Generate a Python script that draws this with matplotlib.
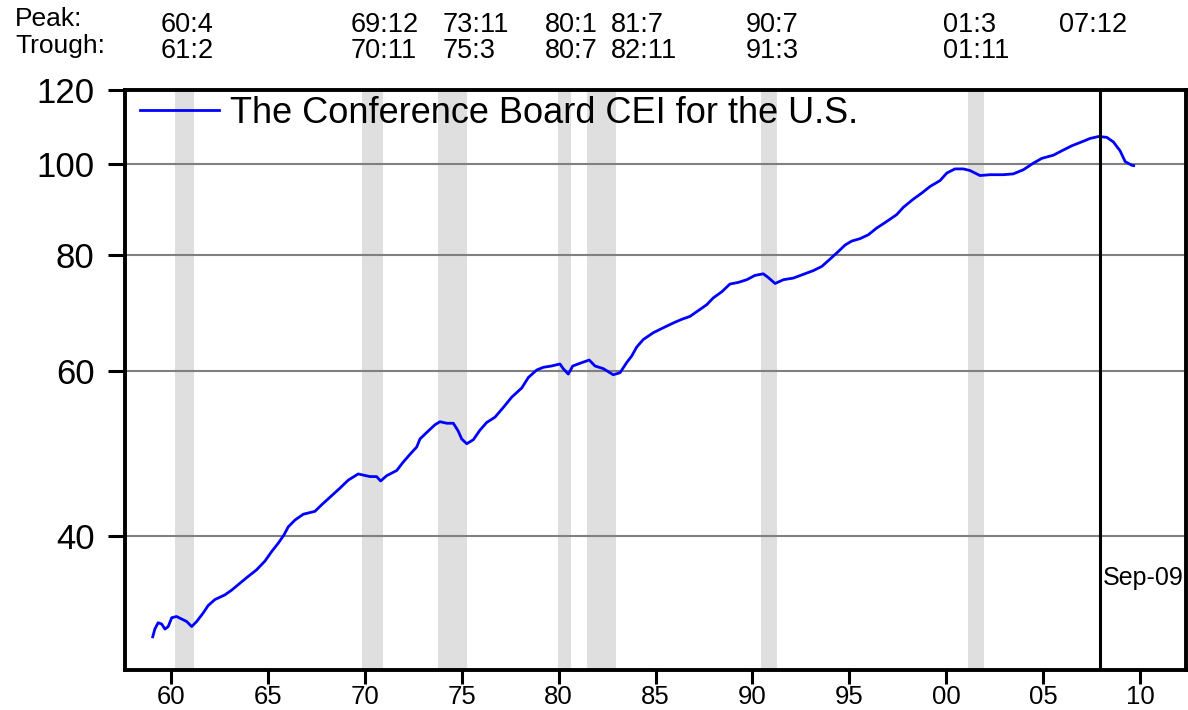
import matplotlib
matplotlib.use('Agg')
import matplotlib.pyplot as plt
from matplotlib import transforms
from matplotlib.ticker import FixedLocator, NullLocator

plt.rcParams['font.family'] = ['Liberation Sans', 'DejaVu Sans']

# business cycle dates (yy:m), last peak has no trough yet
peaks = ['60:4', '69:12', '73:11', '80:1', '81:7', '90:7', '01:3', '07:12']
troughs = ['61:2', '70:11', '75:3', '80:7', '82:11', '91:3', '01:11', '']
label_x = [1959.48, 1969.29, 1974.03, 1979.30, 1982.70, 1989.67, 1999.83, 2005.82]  # where the date labels sit

# CEI (decimal year, index level)
cei_dates = [1959.06, 1959.17, 1959.34, 1959.52, 1959.69, 1959.86, 1960.04, 1960.29, 1960.55, 1960.81,
             1961.07, 1961.33, 1961.67, 1961.92, 1962.27, 1962.79, 1963.13, 1963.56, 1963.91, 1964.42,
             1964.85, 1965.20, 1965.54, 1965.83, 1966.05, 1966.40, 1966.83, 1967.43, 1967.78, 1968.20,
             1968.72, 1969.15, 1969.66, 1970.27, 1970.61, 1970.82, 1971.13, 1971.65, 1971.99, 1972.33,
             1972.68, 1972.85, 1973.19, 1973.62, 1973.88, 1974.23, 1974.57, 1974.82, 1975.00, 1975.26,
             1975.60, 1975.94, 1976.29, 1976.72, 1977.15, 1977.58, 1978.10, 1978.44, 1978.87, 1979.21,
             1979.64, 1980.07, 1980.24, 1980.50, 1980.73, 1981.10, 1981.58, 1981.88, 1982.31, 1982.82,
             1983.17, 1983.51, 1983.77, 1984.03, 1984.37, 1984.89, 1985.40, 1985.92, 1986.35, 1986.78,
             1987.21, 1987.64, 1987.98, 1988.42, 1988.84, 1989.27, 1989.71, 1990.13, 1990.56, 1990.82,
             1991.17, 1991.60, 1992.11, 1992.63, 1993.14, 1993.58, 1994.00, 1994.43, 1994.78, 1995.12,
             1995.55, 1995.98, 1996.41, 1996.93, 1997.45, 1997.79, 1998.30, 1998.74, 1999.16, 1999.68,
             2000.03, 2000.45, 2000.88, 2001.23, 2001.74, 2002.26, 2002.95, 2003.46, 2003.98, 2004.49,
             2004.93, 2005.53, 2005.96, 2006.48, 2006.99, 2007.42, 2007.85, 2008.28, 2008.62, 2008.97,
             2009.23, 2009.57, 2009.67]
cei_values = [31.2, 31.8, 32.3, 32.2, 31.8, 32.0, 32.7, 32.8, 32.6, 32.4,
              32.0, 32.4, 33.1, 33.7, 34.2, 34.6, 35.0, 35.6, 36.1, 36.8,
              37.6, 38.5, 39.3, 40.1, 40.9, 41.6, 42.2, 42.5, 43.2, 44.0,
              45.0, 45.9, 46.6, 46.3, 46.3, 45.8, 46.4, 47.0, 48.0, 48.9,
              49.8, 50.8, 51.6, 52.6, 53.0, 52.8, 52.8, 51.8, 50.8, 50.2,
              50.7, 51.9, 52.9, 53.6, 54.9, 56.3, 57.6, 59.1, 60.2, 60.6,
              60.8, 61.1, 60.4, 59.6, 60.8, 61.2, 61.7, 60.8, 60.4, 59.5,
              59.8, 61.3, 62.3, 63.7, 64.9, 66.0, 66.8, 67.6, 68.2, 68.7,
              69.7, 70.7, 71.9, 73.0, 74.4, 74.7, 75.2, 76.0, 76.3, 75.6,
              74.5, 75.2, 75.5, 76.2, 76.9, 77.7, 79.1, 80.6, 81.9, 82.7,
              83.2, 84.0, 85.4, 86.8, 88.3, 89.9, 91.7, 93.1, 94.6, 96.0,
              97.8, 98.8, 98.8, 98.4, 97.2, 97.4, 97.4, 97.6, 98.6, 100.2,
              101.4, 102.2, 103.3, 104.6, 105.6, 106.5, 107.0, 106.8, 105.6, 103.3,
              100.6, 99.7, 99.6]

y_ticks = [40, 60, 80, 100, 120]
x_ticks = list(range(1960, 2011, 5))


def to_year(s):
    yy, mm = s.split(':')
    yy = int(yy)
    year = 1900 + yy if yy >= 50 else 2000 + yy
    return year + (int(mm) - 1) / 12


fig = plt.figure(figsize=(11.88, 7.10), dpi=100)
ax = fig.add_axes([125 / 1188, 40 / 710, 1061 / 1188, 580 / 710])

# recession shading, open-ended peak drawn as a line
for p, t in zip(peaks, troughs):
    if t:
        ax.axvspan(to_year(p) - 1 / 24, to_year(t) + 1 / 12 + 1 / 24, color='#dfdfdf', lw=0, zorder=0)
    else:
        ax.axvline(to_year(p) + 1 / 24, color='black', lw=2.2, zorder=3)

ax.plot(cei_dates, cei_values, color='#0000ff', lw=2.0, zorder=2,
        label='The Conference Board CEI for the U.S.')

ax.set_yscale('log')
ax.set_ylim(28.75, 120)
ax.set_xlim(1957.63, 2012.37)
ax.yaxis.set_major_locator(FixedLocator(y_ticks))
ax.yaxis.set_minor_locator(NullLocator())
ax.set_yticklabels([str(v) for v in y_ticks])
ax.set_xticks(x_ticks)
ax.set_xticklabels(['{:02d}'.format(y % 100) for y in x_ticks])

ax.set_axisbelow(True)
ax.yaxis.grid(True, color='#808080', lw=1.5)
for s in ax.spines.values():
    s.set_linewidth(2.8)
    s.set_color('black')
ax.tick_params(axis='x', direction='out', length=10, width=2.2, pad=0.5, labelsize=18.5)
ax.tick_params(axis='y', direction='out', length=12, width=2.2, pad=10, labelsize=25)

ax.legend(loc='center left', bbox_to_anchor=(0.0141, 0.960), frameon=False, fontsize=26,
          handlelength=2.2, handletextpad=0.3, borderpad=0, borderaxespad=0)

ax.annotate('Sep-09', xy=(to_year(peaks[-1]), 0.159), xycoords=('data', 'axes fraction'),
            xytext=(2, 0), textcoords='offset points', va='center', ha='left', fontsize=18)

# peak / trough dates above the plot
fig.text(15 / 1188, 1 - 26 / 710, 'Peak:', fontsize=19, va='baseline')
fig.text(15 / 1188, 1 - 53 / 710, 'Trough:', fontsize=19, va='baseline')
trans = transforms.blended_transform_factory(ax.transData, fig.transFigure)
for x, p, t in zip(label_x, peaks, troughs):
    fig.text(x, 1 - 32 / 710, p, transform=trans, fontsize=19.5, va='baseline', ha='left')
    if t:
        fig.text(x, 1 - 58 / 710, t, transform=trans, fontsize=19.5, va='baseline', ha='left')

fig.savefig('out.png', dpi=100)
